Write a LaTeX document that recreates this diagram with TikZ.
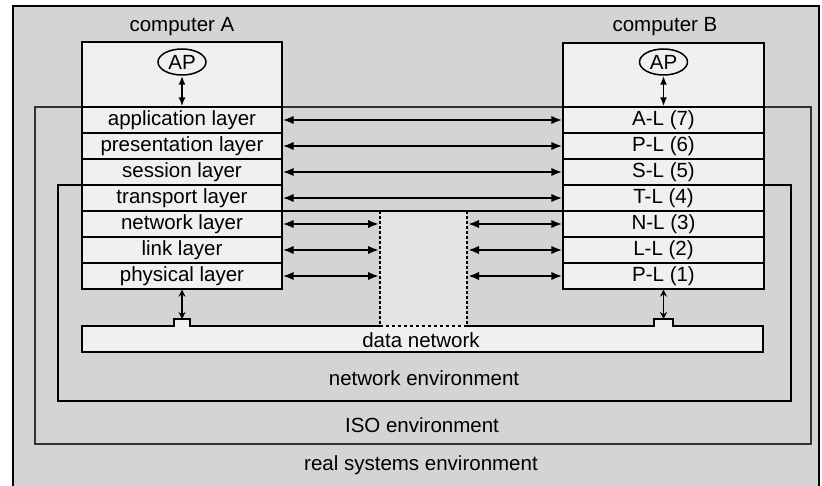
\documentclass[tikz,border=0pt]{standalone}
\usepackage{fontspec}
\setmainfont{Liberation Sans}
\usetikzlibrary{arrows.meta,shapes.geometric}
\definecolor{dense}{gray}{0.83}
\definecolor{light}{gray}{0.94}
\definecolor{mid}{gray}{0.89}
\tikzset{
  every node/.style={font=\fontsize{20.5}{23}\selectfont},
  layerbox/.style={draw, line width=1.3pt, fill=light, minimum height=26pt, inner sep=0pt},
  layA/.style={layerbox, minimum width=200pt},
  layB/.style={layerbox, minimum width=201pt},
  harr/.style={{Latex[length=11pt,width=8.5pt]}-{Latex[length=11pt,width=8.5pt]}, line width=2.8pt},
  aparr/.style={{Latex[length=9pt,width=7pt]}-{Latex[length=9pt,width=7pt]}, line width=1.9pt},
  varr/.style={{Stealth[open,length=7pt,width=7pt]}-{Stealth[open,length=7pt,width=7pt]}, line width=1.2pt},
  envline/.style={line width=1.7pt},
  isoline/.style={line width=1.4pt, black!80},
  midline/.style={line width=1.3pt, densely dashed},
  compbox/.style={draw, line width=1.5pt, fill=light},
  lbl/.style={inner sep=1pt},
}
\begin{document}
\begin{tikzpicture}[x=1pt,y=-1pt]
\useasboundingbox (0,0) rectangle (822,486);
% background frame
\fill[dense] (13,6) rectangle (819,486);
\draw[line width=1.7pt] (13,492) -- (13,6) -- (819,6) -- (819,492);

% computer boxes
\draw[compbox] (82,42) rectangle (282,289);
\draw[compbox] (563,43) rectangle (764,289);
\node[lbl] (cA) at (182,27) {computer A};
\node[lbl] (cB) at (665,27) {computer B};

% middle subnet region
\fill[mid] (380,211) rectangle (467,326);

% ISO environment
\draw[isoline] (82,107) -- (35,107) -- (35,444) -- (811,444) -- (811,107) -- (764,107);
\draw[isoline] (282,107) -- (563,107);
% network environment
\draw[envline] (82,185) -- (58,185) -- (58,401) -- (791,401) -- (791,185) -- (764,185);
\draw[line width=1.2pt] (282,211) -- (563,211);

% layers A
\node[layA] (a7) at (182,120) {application layer};
\node[layA] (a6) at (182,146) {presentation layer};
\node[layA] (a5) at (182,172) {session layer};
\node[layA] (a4) at (182,198) {transport layer};
\node[layA] (a3) at (182,224) {network layer};
\node[layA] (a2) at (182,250) {link layer};
\node[layA] (a1) at (182,276) {physical layer};
% layers B
\node[layB] (b7) at (663.5,120) {A-L (7)};
\node[layB] (b6) at (663.5,146) {P-L (6)};
\node[layB] (b5) at (663.5,172) {S-L (5)};
\node[layB] (b4) at (663.5,198) {T-L (4)};
\node[layB] (b3) at (663.5,224) {N-L (3)};
\node[layB] (b2) at (663.5,250) {L-L (2)};
\node[layB] (b1) at (663.5,276) {P-L (1)};

% AP
\node[draw, ellipse, line width=1.5pt, fill=light, minimum width=48pt, minimum height=26pt, inner sep=0pt] (apA) at (182,62) {AP};
\node[draw, ellipse, line width=1.5pt, fill=light, minimum width=48pt, minimum height=26pt, inner sep=0pt] (apB) at (663.5,62) {AP};
\draw[aparr] (apA.south) -- (a7.north);
\draw[aparr] (apB.south) -- (b7.north);

% peer arrows
\draw[harr] (a7.east) -- (b7.west);
\draw[harr] (a6.east) -- (b6.west);
\draw[harr] (a5.east) -- (b5.west);
\draw[harr] (a4.east) -- (b4.west);
\coordinate (ml) at (379,211);
\coordinate (mr) at (468,211);
\draw[harr] (a3.east) -- (a3.east -| ml);
\draw[harr] (a2.east) -- (a2.east -| ml);
\draw[harr] (a1.east) -- (a1.east -| ml);
\draw[harr] (b3.west -| mr) -- (b3.west);
\draw[harr] (b2.west -| mr) -- (b2.west);
\draw[harr] (b1.west -| mr) -- (b1.west);
\draw[midline] (380,211) -- (380,326);
\draw[midline] (467,211) -- (467,326);

% data network
\fill[light] (82,326) rectangle (763,352);
\fill[light] (174,319) rectangle (190,326);
\fill[light] (654,319) rectangle (673,326);
\node[inner sep=0pt] (dn) at (421,340) {data network};
\draw[line width=1.7pt] (380,326) -- (190,326) -- (190,319) -- (174,319) -- (174,326) -- (82,326) -- (82,352) -- (763,352) -- (763,326) -- (673,326) -- (673,319) -- (654,319) -- (654,326) -- (467,326);
\draw[line width=1.4pt, dashed] (380,326) -- (467,326);
\coordinate (bumpA) at (182,319);
\coordinate (bumpB) at (663.5,319);
\draw[varr] (a1.south) -- (bumpA);
\draw[varr] (b1.south) -- (bumpB);

% environment labels
\node[lbl] (ne) at (424,378) {network environment};
\node[lbl] (ie) at (422,425) {ISO environment};
\node[lbl] (re) at (421,465) {real systems environment};
\end{tikzpicture}
\end{document}
